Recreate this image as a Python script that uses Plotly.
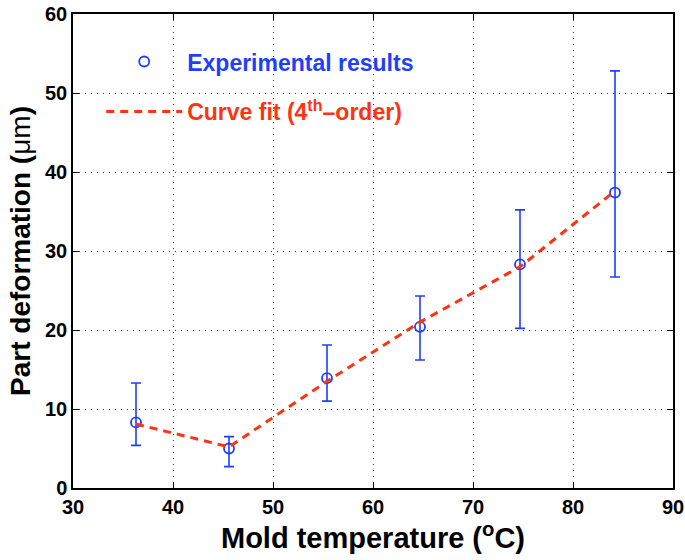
import plotly.graph_objects as go

temps = [36.3, 45.6, 55.4, 64.7, 74.7, 84.2]
deform = [8.3, 5.0, 13.9, 20.4, 28.3, 37.4]
err_plus = [5.0, 1.5, 4.2, 3.9, 6.9, 15.4]
err_minus = [2.9, 2.3, 2.9, 4.2, 8.1, 10.7]
fit = [8.1, 5.2, 13.5, 21.0, 28.0, 37.6]

x_ticks = [30, 40, 50, 60, 70, 80, 90]
y_ticks = [0, 10, 20, 30, 40, 50, 60]

BLUE = "#1f3fff"
RED = "#ff3311"
FONT = "Liberation Sans"

fig = go.Figure()
fig.add_trace(go.Scatter(
    x=temps, y=deform, mode="markers",
    name="<b><span style='color:%s'>Experimental results</span></b>" % BLUE,
    legendgroup="a",
    marker=dict(symbol="circle-open", size=10, color=BLUE, line=dict(width=1.8, color=BLUE)),
    error_y=dict(type="data", symmetric=False, array=err_plus, arrayminus=err_minus,
                 color=BLUE, thickness=1.6, width=5),
))
fig.add_trace(go.Scatter(
    x=temps, y=fit, mode="lines",
    name="<b><span style='color:%s'>Curve fit (4<sup>th</sup>–order)</span></b>" % RED,
    legendgroup="b",
    line=dict(color=RED, width=3, dash="8px,6px"),
))

axis_common = dict(
    showline=True, linecolor="black", linewidth=1.5, mirror="ticks",
    ticks="inside", ticklen=6, tickcolor="black", tickwidth=1.2,
    showgrid=True, gridcolor="#333333", griddash="1px,5px", gridwidth=1,
    zeroline=False, automargin=False,
    tickfont=dict(family=FONT, size=20, color="black", weight="bold"),
)

fig.update_layout(
    width=685, height=560,
    margin=dict(l=73, r=12, t=14, b=72),
    plot_bgcolor="white", paper_bgcolor="white",
    font=dict(family=FONT),
    showlegend=True,
    legend=dict(x=0.047, y=0.945, xanchor="left", yanchor="top",
                bgcolor="rgba(0,0,0,0)", font=dict(family=FONT, size=23),
                itemwidth=76, tracegroupgap=17),
    xaxis=dict(range=[30, 90], tickvals=x_ticks,
               title=dict(text="<b>Mold temperature (<sup>o</sup>C)</b>",
                          font=dict(family=FONT, size=29, color="black"), standoff=6),
               **axis_common),
    yaxis=dict(range=[0, 60], tickvals=y_ticks,
               title=dict(text="<b>Part deformation (</b>μm<b>)</b>",
                          font=dict(family=FONT, size=28, color="black"), standoff=6),
               **axis_common),
)

fig.write_html("out.html", config={"displayModeBar": False},
               post_script="document.body.style.margin='0';document.body.style.padding='0';")
